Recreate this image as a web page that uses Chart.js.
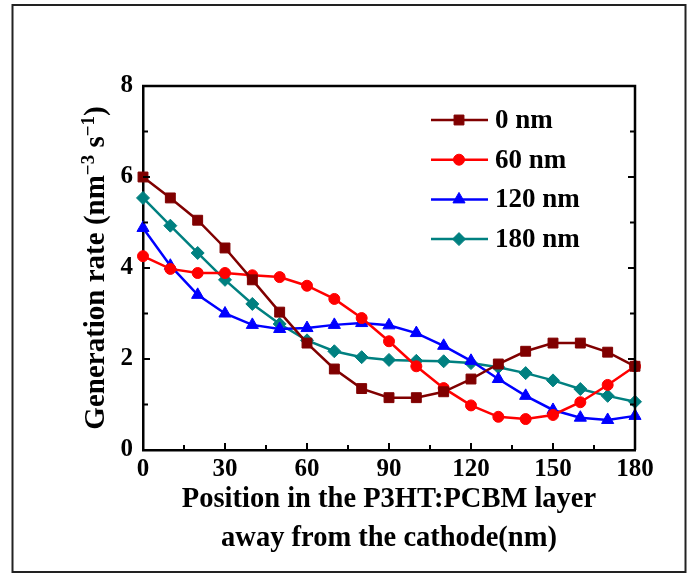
<!DOCTYPE html>
<html>
<head>
<meta charset="utf-8">
<script src="https://cdn.jsdelivr.net/npm/chart.js@4/dist/chart.umd.min.js"></script>
<style>
  html, body { margin: 0; padding: 0; background: #fff; }
  #wrap { width: 700px; height: 573px; }
</style>
</head>
<body>
<div id="wrap"><canvas id="genChart" width="700" height="573"></canvas></div>
<script>
// positions in the active layer (nm)
const positions = [0, 10, 20, 30, 40, 50, 60, 70, 80, 90, 100, 110, 120, 130, 140, 150, 160, 170, 180];

// generation rate for each spacer thickness
const rate0nm   = [6.0, 5.54, 5.05, 4.44, 3.74, 3.03, 2.35, 1.78, 1.35, 1.15, 1.15, 1.28, 1.56, 1.89, 2.17, 2.35, 2.35, 2.15, 1.84];
const rate60nm  = [4.26, 3.98, 3.89, 3.89, 3.84, 3.80, 3.61, 3.32, 2.90, 2.39, 1.84, 1.36, 0.98, 0.73, 0.68, 0.77, 1.05, 1.43, 1.84];
const rate120nm = [4.88, 4.05, 3.41, 3.0, 2.75, 2.66, 2.68, 2.75, 2.79, 2.74, 2.57, 2.29, 1.96, 1.56, 1.19, 0.88, 0.71, 0.66, 0.75];
const rate180nm = [5.54, 4.93, 4.33, 3.74, 3.21, 2.77, 2.41, 2.17, 2.04, 1.98, 1.96, 1.95, 1.91, 1.82, 1.69, 1.53, 1.34, 1.19, 1.06];

const seriesLabels = ['0 nm', '60 nm', '120 nm', '180 nm'];

// tick values
const xTicks = [0, 30, 60, 90, 120, 150, 180];
const yTicks = [0, 2, 4, 6, 8];
const xMinorTicks = [15, 45, 75, 105, 135, 165];
const yMinorTicks = [1, 3, 5, 7];

const FONT = '"Liberation Serif", "Times New Roman", serif';

function makeSet(label, data, color, style, radius) {
    return {
        label: label,
        data: positions.map((x, i) => ({ x: x, y: data[i] })),
        borderColor: color,
        backgroundColor: color,
        borderWidth: 2.5,
        pointStyle: style,
        pointRadius: radius,
        pointHoverRadius: radius,
        pointBorderWidth: 1,
        tension: 0,
        clip: false
    };
}

// marker for the legend, same shapes as chart.js point styles
function drawMarker(ctx, style, r, x, y) {
    ctx.beginPath();
    if (style === 'rect') {
        const s = r * Math.SQRT1_2;
        ctx.rect(x - s, y - s, 2 * s, 2 * s);
    } else if (style === 'circle') {
        ctx.arc(x, y, r, 0, Math.PI * 2);
    } else if (style === 'triangle') {
        ctx.moveTo(x, y - r);
        ctx.lineTo(x + r * Math.sin(Math.PI * 2 / 3), y - r * Math.cos(Math.PI * 2 / 3));
        ctx.lineTo(x + r * Math.sin(Math.PI * 4 / 3), y - r * Math.cos(Math.PI * 4 / 3));
        ctx.closePath();
    } else {
        ctx.moveTo(x, y - r);
        ctx.lineTo(x + r, y);
        ctx.lineTo(x, y + r);
        ctx.lineTo(x - r, y);
        ctx.closePath();
    }
    ctx.fill();
    ctx.stroke();
}

// frame, inward ticks, legend and axis titles
const decorPlugin = {
    id: 'decor',
    afterDraw(chart) {
        const ctx = chart.ctx;
        const a = chart.chartArea;
        const xs = chart.scales.x;
        const ys = chart.scales.y;
        ctx.save();

        // outer picture frame
        ctx.strokeStyle = '#222';
        ctx.lineWidth = 2;
        ctx.strokeRect(12.5, 5, 673, 567);

        // top and right axis lines
        ctx.strokeStyle = '#000';
        ctx.lineWidth = 2.5;
        ctx.beginPath();
        ctx.moveTo(a.left - 1, a.top);
        ctx.lineTo(a.right, a.top);
        ctx.lineTo(a.right, a.bottom);
        ctx.stroke();

        // inward ticks
        ctx.lineWidth = 2;
        ctx.beginPath();
        xTicks.concat(xMinorTicks).forEach(v => {
            const len = xTicks.includes(v) ? 7 : 5;
            const px = xs.getPixelForValue(v);
            ctx.moveTo(px, a.bottom);
            ctx.lineTo(px, a.bottom - len);
        });
        yTicks.concat(yMinorTicks).forEach(v => {
            const len = yTicks.includes(v) ? 7 : 5;
            const py = ys.getPixelForValue(v);
            ctx.moveTo(a.left, py);
            ctx.lineTo(a.left + len, py);
            ctx.moveTo(a.right, py);
            ctx.lineTo(a.right - len, py);
        });
        ctx.stroke();

        // legend
        chart.data.datasets.forEach((ds, i) => {
            const y = 120 + i * 39.7;
            ctx.strokeStyle = ds.borderColor;
            ctx.fillStyle = ds.backgroundColor;
            ctx.lineWidth = 2.5;
            ctx.beginPath();
            ctx.moveTo(431, y);
            ctx.lineTo(488, y);
            ctx.stroke();
            ctx.lineWidth = 1;
            drawMarker(ctx, ds.pointStyle, ds.pointRadius, 459, y);
            ctx.fillStyle = '#000';
            ctx.font = 'bold 27px ' + FONT;
            ctx.textAlign = 'left';
            ctx.textBaseline = 'middle';
            ctx.fillText(ds.label, 495, y + 1);
        });

        // x axis title
        ctx.fillStyle = '#000';
        ctx.font = 'bold 28.5px ' + FONT;
        ctx.textAlign = 'center';
        ctx.textBaseline = 'middle';
        const cx = (a.left + a.right) / 2;
        ctx.fillText('Position in the P3HT:PCBM layer', cx, 500);
        ctx.fillText('away from the cathode(nm)', cx, 539);

        // y axis title with superscripts
        const parts = [
            { t: 'Generation rate (nm', sup: false },
            { t: '\u22123', sup: true },
            { t: ' s', sup: false },
            { t: '\u22121', sup: true },
            { t: ')', sup: false }
        ];
        const bigFont = 'bold 29px ' + FONT;
        const smallFont = 'bold 19px ' + FONT;
        let total = 0;
        parts.forEach(p => {
            ctx.font = p.sup ? smallFont : bigFont;
            p.w = ctx.measureText(p.t).width;
            total += p.w;
        });
        ctx.translate(94, (a.top + a.bottom) / 2);
        ctx.rotate(-Math.PI / 2);
        ctx.textAlign = 'left';
        ctx.textBaseline = 'alphabetic';
        let x = -total / 2;
        parts.forEach(p => {
            ctx.font = p.sup ? smallFont : bigFont;
            ctx.fillText(p.t, x, p.sup ? 0 : 10);
            x += p.w;
        });

        ctx.restore();
    }
};

new Chart(document.getElementById('genChart'), {
    type: 'line',
    data: {
        datasets: [
            makeSet(seriesLabels[0], rate0nm, '#800000', 'rect', 7),
            makeSet(seriesLabels[1], rate60nm, '#ff0000', 'circle', 5.5),
            makeSet(seriesLabels[2], rate120nm, '#0000ff', 'triangle', 7),
            makeSet(seriesLabels[3], rate180nm, '#008080', 'rectRot', 6.5)
        ]
    },
    options: {
        responsive: false,
        animation: false,
        events: [],
        layout: { padding: { left: 0, top: 86, right: 65, bottom: 0 } },
        scales: {
            x: {
                type: 'linear',
                min: 0,
                max: 180,
                afterBuildTicks: s => { s.ticks = xTicks.map(v => ({ value: v })); },
                afterFit: s => { s.height = 123; },
                grid: { display: false, drawTicks: false },
                border: { display: true, color: '#000', width: 2.5 },
                ticks: { color: '#000', padding: 5, maxRotation: 0, font: { family: FONT, size: 25, weight: 'bold' } }
            },
            y: {
                type: 'linear',
                min: 0,
                max: 8,
                afterBuildTicks: s => { s.ticks = yTicks.map(v => ({ value: v })); },
                afterFit: s => { s.width = 143; },
                grid: { display: false, drawTicks: false },
                border: { display: true, color: '#000', width: 2.5 },
                ticks: { color: '#000', padding: 10, font: { family: FONT, size: 25, weight: 'bold' } }
            }
        },
        plugins: {
            legend: { display: false },
            tooltip: { enabled: false }
        }
    },
    plugins: [decorPlugin]
});
</script>
</body>
</html>
